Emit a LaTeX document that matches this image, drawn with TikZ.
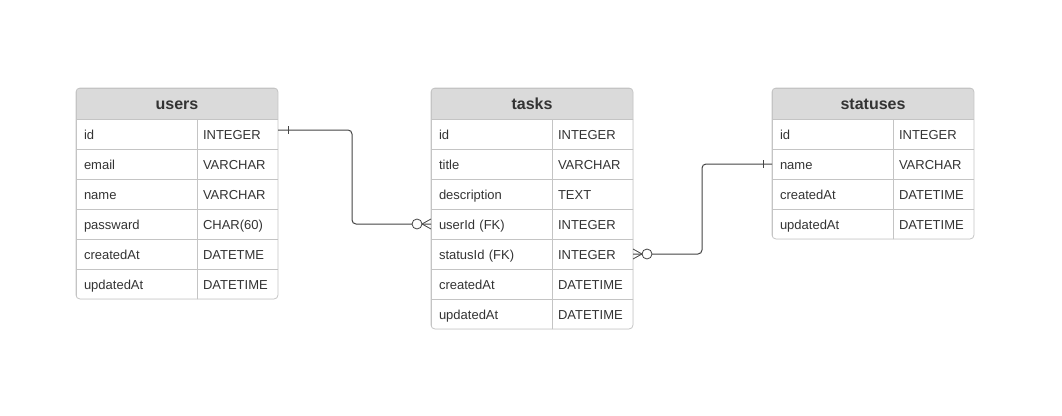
\documentclass[tikz,border=0pt]{standalone}
\usepackage{fontspec}
\setmainfont{Liberation Sans}
\usepackage{tikz}
\usetikzlibrary{positioning}
\usetikzlibrary{calc}

\definecolor{headfill}{HTML}{DADADA}
\definecolor{rule}{HTML}{C4C4C4}
\definecolor{ink}{HTML}{333333}
\definecolor{wire}{HTML}{444444}

\begin{document}
\begin{tikzpicture}[ x = 1pt, y = -1pt
                   , node distance = 0pt
                   , font = \fontsize{13}{15}\selectfont
                   , every node/.style = { rectangle
                                       , draw = rule
                                       , line width = 0.8pt
                                       , outer sep = 0pt
                                       , text = ink
                                       , minimum height = 30pt
                                       , inner ysep = 0pt
                                       , text height = 12pt
                                       , text depth = 2pt }
                   ]

    \tikzset{ head/.style = {fill=headfill, minimum width=202pt, minimum height=31pt,
                             text height=13.5pt, text depth=2pt,
                             font=\fontsize{16}{18}\selectfont\bfseries}
            , field/.style = {text width=105pt, inner xsep=8pt, align=left}
            , kind/.style = {text width=69pt, inner xsep=6pt, align=left}
            , frame/.style = {draw=rule, line width=0.8pt, rounded corners=4pt}
            , link/.style = {draw=wire, line width=1pt, rounded corners=4pt}
            , erend/.style = {draw=wire, line width=0.8pt}}

    \useasboundingbox (0,0) rectangle (1062,415);

    %%
    %% Tables
    %%
    \begin{scope}
      \clip[rounded corners=4pt] (76,88) rectangle ++(202,211);
      \node (usr)   [head, anchor=north west] at (76,88) {users};
      \node (usr1)  [field, anchor=north west] at (usr.south west) {id};
      \node (usr1t) [kind, right = of usr1]  {INTEGER};
      \node (usr2)  [field, below = of usr1] {email};
      \node (usr2t) [kind, right = of usr2]  {VARCHAR};
      \node (usr3)  [field, below = of usr2] {name};
      \node (usr3t) [kind, right = of usr3]  {VARCHAR};
      \node (usr4)  [field, below = of usr3] {passward};
      \node (usr4t) [kind, right = of usr4]  {CHAR(60)};
      \node (usr5)  [field, below = of usr4] {createdAt};
      \node (usr5t) [kind, right = of usr5]  {DATETME};
      \node (usr6)  [field, below = of usr5] {updatedAt};
      \node (usr6t) [kind, right = of usr6]  {DATETIME};
    \end{scope}
    \draw[frame] (usr.north west) rectangle (usr6t.south east);

    \begin{scope}
      \clip[rounded corners=4pt] (431,88) rectangle ++(202,241);
      \node (tsk)   [head, anchor=north west] at (431,88) {tasks};
      \node (tsk1)  [field, anchor=north west] at (tsk.south west) {id};
      \node (tsk1t) [kind, right = of tsk1]  {INTEGER};
      \node (tsk2)  [field, below = of tsk1] {title};
      \node (tsk2t) [kind, right = of tsk2]  {VARCHAR};
      \node (tsk3)  [field, below = of tsk2] {description};
      \node (tsk3t) [kind, right = of tsk3]  {TEXT};
      \node (tsk4)  [field, below = of tsk3] {userId (FK)};
      \node (tsk4t) [kind, right = of tsk4]  {INTEGER};
      \node (tsk5)  [field, below = of tsk4] {statusId (FK)};
      \node (tsk5t) [kind, right = of tsk5]  {INTEGER};
      \node (tsk6)  [field, below = of tsk5] {createdAt};
      \node (tsk6t) [kind, right = of tsk6]  {DATETIME};
      \node (tsk7)  [field, below = of tsk6] {updatedAt};
      \node (tsk7t) [kind, right = of tsk7]  {DATETIME};
    \end{scope}
    \draw[frame] (tsk.north west) rectangle (tsk7t.south east);

    \begin{scope}
      \clip[rounded corners=4pt] (772,88) rectangle ++(202,151);
      \node (sts)   [head, anchor=north west] at (772,88) {statuses};
      \node (sts1)  [field, anchor=north west] at (sts.south west) {id};
      \node (sts1t) [kind, right = of sts1]  {INTEGER};
      \node (sts2)  [field, below = of sts1] {name};
      \node (sts2t) [kind, right = of sts2]  {VARCHAR};
      \node (sts3)  [field, below = of sts2] {createdAt};
      \node (sts3t) [kind, right = of sts3]  {DATETIME};
      \node (sts4)  [field, below = of sts3] {updatedAt};
      \node (sts4t) [kind, right = of sts4]  {DATETIME};
    \end{scope}
    \draw[frame] (sts.north west) rectangle (sts4t.south east);

    %%
    %% Relationships (one to zero-or-many)
    %%
    \draw[link] ([yshift=4pt]usr1t.east) -- ++(74,0) |- (tsk4.west);
    \draw[erend] ([xshift=10pt, yshift=8pt]usr1t.east) -- ([xshift=10pt]usr1t.east);
    \draw[erend] ([xshift=-9pt]tsk4.west) -- ([yshift=5pt]tsk4.west)
                 ([xshift=-9pt]tsk4.west) -- ([yshift=-5pt]tsk4.west);
    \draw[erend, fill=white] ([xshift=-14pt]tsk4.west) circle (5pt);

    \draw[link] (tsk5t.east) -- ++(69,0) |- (sts2.west);
    \draw[erend] ([xshift=-9pt, yshift=4pt]sts2.west) -- ([xshift=-9pt, yshift=-4pt]sts2.west);
    \draw[erend] ([xshift=9pt]tsk5t.east) -- ([yshift=5pt]tsk5t.east)
                 ([xshift=9pt]tsk5t.east) -- ([yshift=-5pt]tsk5t.east);
    \draw[erend, fill=white] ([xshift=14pt]tsk5t.east) circle (5pt);
\end{tikzpicture}
\end{document}
